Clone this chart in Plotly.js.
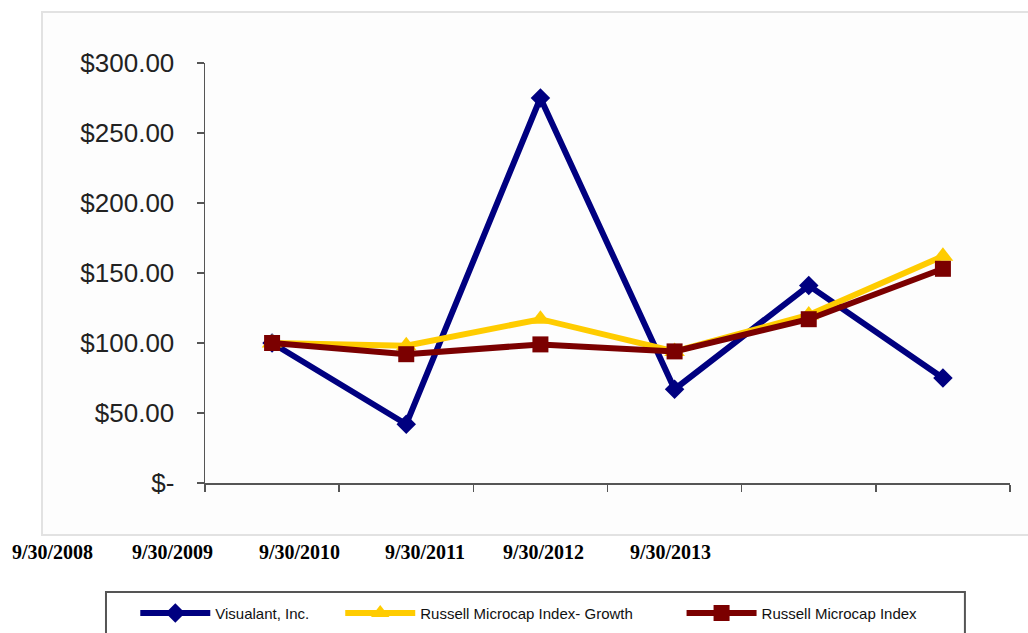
<!DOCTYPE html>
<html>
<head>
<meta charset="utf-8">
<script src="https://cdn.plot.ly/plotly-3.0.1.min.js"></script>
<style>html,body{margin:0;padding:0;background:#fff;}#chart{width:1028px;height:633px;}</style>
</head>
<body>
<div id="chart"></div>
<script>
// ---- data ----
const categories = ['9/30/2008', '9/30/2009', '9/30/2010', '9/30/2011', '9/30/2012', '9/30/2013'];
const visualant = [100, 42, 275, 67, 141, 75];
const microGrowth = [100, 98, 117, 94, 120, 162];
const microcap = [100, 92, 99, 94, 117, 153];
const seriesNames = ['Visualant, Inc.', 'Russell Microcap Index- Growth', 'Russell Microcap Index'];
const yTickVals = [0, 50, 100, 150, 200, 250, 300];
const yTickText = ['$-', '$50.00', '$100.00', '$150.00', '$200.00', '$250.00', '$300.00'];
const dateLabels = categories;

// ---- layout helpers (positions, not data) ----
const dateLabelX = [-0.190, -0.040, 0.117, 0.273, 0.421, 0.578];

const traces = [
  {x: categories, y: visualant, name: seriesNames[0], type: 'scatter', mode: 'lines+markers',
   line: {color: '#000080', width: 6}, marker: {symbol: 'diamond', size: 15, color: '#000080'}, legend: 'legend'},
  {x: categories, y: microGrowth, name: seriesNames[1], type: 'scatter', mode: 'lines+markers',
   line: {color: '#FFCC00', width: 6}, marker: {symbol: 'triangle-up', size: 18, color: '#FFCC00'}, legend: 'legend2'},
  {x: categories, y: microcap, name: seriesNames[2], type: 'scatter', mode: 'lines+markers',
   line: {color: '#7B0000', width: 6}, marker: {symbol: 'square', size: 16, color: '#7B0000'}, legend: 'legend3'}
];

const legendFont = {family: 'Liberation Sans, Arial, sans-serif', size: 15, color: '#111'};
function mkLegend(x) {
  return {x: x, xanchor: 'left', y: -0.31, yanchor: 'middle', orientation: 'h',
          bgcolor: 'rgba(0,0,0,0)', borderwidth: 0, font: legendFont, itemwidth: 70};
}

const annotations = dateLabels.map((t, i) => ({
  text: '<b>' + t + '</b>', xref: 'paper', yref: 'paper', x: dateLabelX[i], y: -0.164,
  xanchor: 'center', yanchor: 'middle', showarrow: false,
  font: {family: 'Liberation Serif, Times New Roman, serif', size: 20, color: '#000'}
}));

const layout = {
  width: 1028, height: 633,
  margin: {l: 205, r: 18, t: 63, b: 150, autoexpand: false},
  paper_bgcolor: '#ffffff', plot_bgcolor: 'rgba(0,0,0,0)',
  showlegend: true,
  legend: mkLegend(-0.0866),
  legend2: mkLegend(0.168),
  legend3: mkLegend(0.592),
  xaxis: {
    type: 'category', range: [-0.5, 5.5], tickson: 'boundaries',
    showgrid: false, zeroline: false, showline: true, linecolor: '#555', linewidth: 1.5,
    ticks: 'outside', ticklen: 7, tickcolor: '#555', tickwidth: 1.5,
    showticklabels: false, fixedrange: true
  },
  yaxis: {
    range: [0, 300], tickvals: yTickVals, ticktext: yTickText,
    showgrid: false, zeroline: false, showline: true, linecolor: '#555', linewidth: 1.5,
    ticks: 'outside', ticklen: 7, tickcolor: '#555', tickwidth: 1.5, ticklabelstandoff: 17,
    tickfont: {family: 'Liberation Sans, Arial, sans-serif', size: 26, color: '#222'}, fixedrange: true
  },
  shapes: [
    {type: 'rect', xref: 'paper', yref: 'paper', x0: -0.2025, x1: 1.06, y0: -0.1238, y1: 1.1214,
     line: {color: '#e2e2e2', width: 2}, fillcolor: '#fdfdfd', layer: 'below'},
    {type: 'rect', xref: 'paper', yref: 'paper', x0: -0.123, x1: 0.944, y0: -0.2595, y1: -0.42,
     line: {color: '#555', width: 2}, fillcolor: 'rgba(0,0,0,0)', layer: 'above'}
  ],
  annotations: annotations
};

Plotly.newPlot('chart', traces, layout, {displayModeBar: false, staticPlot: true});
</script>
</body>
</html>
